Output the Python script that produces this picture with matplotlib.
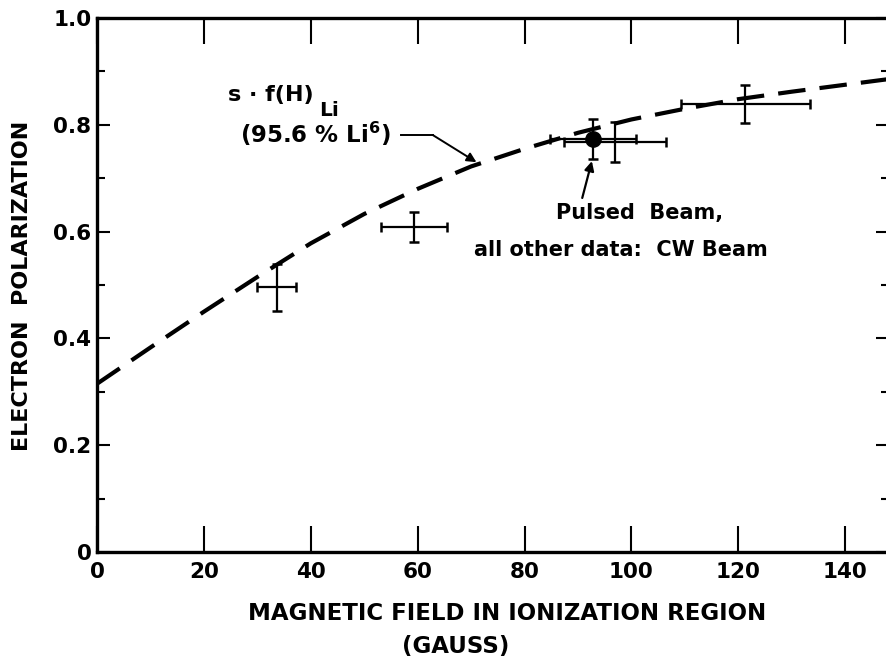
import matplotlib
matplotlib.use("Agg")
import matplotlib.pyplot as plt
from matplotlib.ticker import MultipleLocator

plt.rcParams['font.family'] = ['DejaVu Sans']
plt.rcParams['mathtext.default'] = 'regular'

# Theoretical curve s*f(H) for 95.6% Li6
curve_field = [0, 10, 20, 30, 40, 50, 60, 70, 80, 90, 100, 110, 120, 130, 140, 150]
curve_pol = [0.315, 0.383, 0.450, 0.515, 0.578, 0.633, 0.680, 0.722, 0.755,
             0.785, 0.810, 0.830, 0.848, 0.862, 0.875, 0.888]

# CW beam measurements
cw_field = [33.6, 59.3, 96.9, 121.3]
cw_pol = [0.496, 0.608, 0.768, 0.839]
cw_field_err = [3.6, 6.1, 9.6, 12.1]
cw_pol_err = [0.044, 0.028, 0.037, 0.036]

# Pulsed beam measurement
pulsed_field = [92.8]
pulsed_pol = [0.773]
pulsed_field_err = [8.1]
pulsed_pol_err = [0.037]

W, H = 887, 662
fig = plt.figure(figsize=(W / 100, H / 100), dpi=100)
ax = fig.add_axes([97 / W, (H - 552) / H, (889 - 97) / W, (552 - 18) / H])

ax.plot(curve_field, curve_pol, color='black', lw=3.0, ls=(0, (6.6, 3.4)),
        dash_capstyle='butt', zorder=2)

ax.errorbar(cw_field, cw_pol, xerr=cw_field_err, yerr=cw_pol_err, fmt='none',
            ecolor='black', elinewidth=1.6, capsize=3.5, capthick=1.8, zorder=3)
ax.errorbar(pulsed_field, pulsed_pol, xerr=pulsed_field_err, yerr=pulsed_pol_err,
            fmt='o', color='black', ms=11, elinewidth=1.6, capsize=3.5,
            capthick=1.8, zorder=4)

ax.set_xlim(0, 148.2)
ax.set_ylim(0, 1.0)

ax.set_xticks([0, 20, 40, 60, 80, 100, 120, 140])
ax.set_xticklabels(['0', '20', '40', '60', '80', '100', '120', '140'])
ax.set_yticks([0, 0.2, 0.4, 0.6, 0.8, 1.0])
ax.set_yticklabels(['0', '0.2', '0.4', '0.6', '0.8', '1.0'])
ax.yaxis.set_minor_locator(MultipleLocator(0.1))

ax.tick_params(axis='x', which='major', direction='in', length=19, width=1.5,
               top=True, bottom=True, labelsize=15.5, pad=7)
ax.tick_params(axis='y', which='major', direction='in', length=9.5, width=1.5,
               left=True, right=True, labelsize=15.5, pad=4)
ax.tick_params(axis='y', which='minor', direction='in', length=5.5, width=1.5,
               left=True, right=True)
for lab in ax.get_xticklabels() + ax.get_yticklabels():
    lab.set_fontweight('bold')

for side in ['left', 'bottom', 'top', 'right']:
    ax.spines[side].set_linewidth(2.4)

fig.text(22 / W, 1 - 286 / H, 'ELECTRON  POLARIZATION', rotation=90,
         ha='center', va='center', fontsize=16, fontweight='bold')
fig.text(507 / W, 1 - 613 / H, 'MAGNETIC FIELD IN IONIZATION REGION',
         ha='center', va='center', fontsize=16.5, fontweight='bold')
fig.text(456 / W, 1 - 647 / H, '(GAUSS)',
         ha='center', va='center', fontsize=16.5, fontweight='bold')

# Curve label with leader arrow
ax.text(24.5, 0.856, 's · f(H)', fontsize=16, fontweight='bold',
        ha='left', va='center')
ax.text(41.6, 0.826, 'Li', fontsize=14.5, fontweight='bold',
        ha='left', va='center')
ax.text(26.7, 0.783, r'(95.6 % Li$^{6}$)', fontsize=16.5, fontweight='bold',
        ha='left', va='center')
ax.plot([56.8, 62.8], [0.781, 0.781], color='black', lw=1.4)
ax.annotate('', xy=(71.0, 0.730), xytext=(62.8, 0.781),
            arrowprops=dict(arrowstyle='-|>', color='black', lw=1.4,
                            mutation_scale=14, shrinkA=0, shrinkB=0))

# Pulsed beam note
ax.annotate('', xy=(92.6, 0.732), xytext=(90.8, 0.663),
            arrowprops=dict(arrowstyle='-|>', color='black', lw=1.6,
                            mutation_scale=14, shrinkA=0, shrinkB=0))
ax.text(101.5, 0.635, 'Pulsed  Beam,', fontsize=15, fontweight='bold',
        ha='center', va='center')
ax.text(98.1, 0.566, 'all other data:  CW Beam', fontsize=15, fontweight='bold',
        ha='center', va='center')

fig.savefig('out.png', dpi=100)
